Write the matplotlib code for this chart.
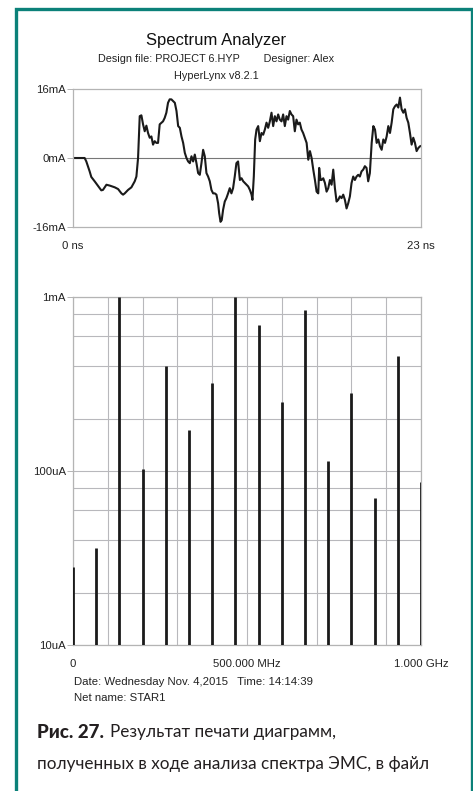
import numpy as np
import matplotlib.pyplot as plt
from matplotlib.patches import Rectangle
from matplotlib.ticker import FixedLocator, NullFormatter

plt.rcParams['font.family'] = ['Liberation Sans', 'DejaVu Sans']

# time-domain current waveform (ns, mA)
t_ns = [0.00, 0.77, 0.88, 1.10, 1.21, 1.43, 1.76, 1.87, 1.98, 2.21, 2.43, 2.76, 2.98, 3.20, 3.31,
        3.42, 3.64, 3.86, 4.08, 4.19, 4.30, 4.41, 4.52, 4.63, 4.74, 4.85, 4.96, 5.07, 5.18, 5.29,
        5.40, 5.51, 5.62, 5.73, 5.95, 6.06, 6.17, 6.28, 6.39, 6.50, 6.62, 6.73, 6.84, 6.95, 7.06,
        7.17, 7.28, 7.39, 7.50, 7.61, 7.72, 7.83, 7.94, 8.05, 8.16, 8.27, 8.38, 8.49, 8.60, 8.71,
        8.82, 8.93, 9.04, 9.15, 9.26, 9.37, 9.48, 9.59, 9.66, 9.75, 9.83, 9.92, 10.03, 10.14, 10.25,
        10.36, 10.47, 10.58, 10.69, 10.80, 10.91, 11.03, 11.14, 11.25, 11.36, 11.58, 11.69, 11.80,
        11.86, 11.95, 12.04, 12.13, 12.24, 12.35, 12.46, 12.57, 12.68, 12.79, 12.90, 13.01, 13.12,
        13.23, 13.34, 13.45, 13.56, 13.67, 13.78, 13.89, 14.00, 14.11, 14.22, 14.33, 14.44, 14.55,
        14.66, 14.77, 14.88, 14.99, 15.10, 15.21, 15.32, 15.44, 15.55, 15.66, 15.77, 15.88, 15.99,
        16.10, 16.21, 16.27, 16.36, 16.43, 16.54, 16.65, 16.76, 16.87, 16.98, 17.09, 17.20, 17.31,
        17.42, 17.53, 17.64, 17.75, 17.86, 17.97, 18.08, 18.19, 18.30, 18.41, 18.52, 18.63, 18.74,
        18.85, 18.96, 19.07, 19.18, 19.29, 19.40, 19.51, 19.62, 19.74, 19.85, 19.96, 20.07, 20.18,
        20.29, 20.40, 20.51, 20.62, 20.73, 20.84, 20.95, 21.06, 21.17, 21.28, 21.39, 21.50, 21.61,
        21.72, 21.83, 21.94, 22.05, 22.16, 22.27, 22.38, 22.49, 22.60, 22.71, 22.82, 22.93, 23.00]
i_ma = [0, 0, -0.8, -3.1, -4.4, -5.4, -7.0, -7.5, -7.4, -6.2, -6.4, -6.8, -7.2, -8.2, -8.5,
        -8.2, -7.4, -6.8, -5.4, -4.3, 0, 9.7, 9.9, 7.8, 6.2, 7.5, 5.8, 4.7, 5.0, 3.1,
        3.9, 3.5, 3.5, 7.8, 8.5, 9.3, 10.5, 12.8, 13.6, 13.6, 13.2, 12.8, 10.9, 7.4, 7.0,
        5.0, 3.5, 1.2, 0, -0.8, -1.2, 0.4, -0.8, 0.8, -1.2, -3.5, -3.9, -1.2, 1.9, 0.4,
        -3.5, -4.3, -5.4, -7.4, -8.2, -8.2, -8.5, -10.5, -12.8, -14.8, -14.4, -12.0, -10.1, -9.3, -8.2,
        -7.0, -8.2, -7.0, -4.3, -1.2, -0.8, -5.1, -4.7, -5.4, -5.8, -6.6, -7.4, -8.5,
        -9.7, -4.3, 4.3, 6.6, 7.4, 3.9, 5.8, 5.4, 6.6, 8.2, 7.0, 8.5, 10.5,
        7.4, 9.7, 8.5, 10.1, 8.9, 8.5, 10.1, 7.4, 9.7, 8.9, 10.9, 10.1, 9.7,
        6.2, 8.9, 7.8, 8.2, 6.6, 5.8, 4.7, 3.5, -0.4, 1.6, 0, -2.7, -5.1,
        -7.8, -8.2, -2.3, -5.1, -5.1, -4.7, -5.8, -7.8, -7.0, -5.1, -6.2, -2.7, -7.0,
        -10.1, -9.7, -8.9, -9.3, -8.5, -9.7, -11.7, -10.5, -8.9, -5.8, -4.3, -5.1, -4.3,
        -3.9, -4.3, -3.1, -2.7, -1.9, -2.3, -5.4, -3.5, 3.5, 7.4, 6.6, 3.5, 4.3,
        2.7, 1.9, 4.3, 3.5, 5.0, 7.4, 5.8, 8.2, 11.3, 12.0, 12.4, 11.7, 14.0,
        11.3, 10.5, 11.3, 9.3, 8.2, 5.8, 3.1, 4.7, 3.5, 1.6, 2.3, 2.7, 2.8]

# spectrum lines (MHz, uA)
freq_mhz = [0, 66.7, 133.3, 200.0, 266.7, 333.3, 400.0, 466.7, 533.3, 600.0, 666.7,
            733.3, 800.0, 866.7, 933.3, 1000.0]
amp_ua = [28, 36, 1000, 103, 403, 173, 319, 1000, 687, 249, 842, 114, 279, 70, 460, 86]

W, H = 473, 791
fig = plt.figure(figsize=(W / 100, H / 100), dpi=100)
fig.patch.set_facecolor('white')

def px(x, y):
    return x / W, 1 - y / H

frame_c = '#b4b4b4'
txt_c = '#222222'
lab_fs = 8.2

# ---- top: waveform ----
ax1 = fig.add_axes([73 / W, 1 - 227 / H, 348 / W, 138 / H])
ax1.plot(t_ns, i_ma, color='#1a1a1a', lw=1.5, solid_joinstyle='round')
ax1.axhline(0, color='#777777', lw=0.8, zorder=0)
ax1.set_xlim(0, 23)
ax1.set_ylim(-16, 16)
ax1.set_yticks([-16, 0, 16])
ax1.set_yticklabels(['-16mA', '0mA', '16mA'])
ax1.set_xticks([0, 23])
ax1.set_xticklabels(['0 ns', '23 ns'])
ax1.tick_params(axis='y', length=4, width=0.7, color=frame_c, labelsize=lab_fs,
                labelcolor=txt_c, pad=1)
ax1.tick_params(axis='x', length=0, labelsize=lab_fs, labelcolor=txt_c, pad=10)
for s in ax1.spines.values():
    s.set_color(frame_c)
    s.set_linewidth(0.9)

# ---- bottom: spectrum ----
ax2 = fig.add_axes([73 / W, 1 - 645 / H, 348 / W, 348 / H])
ax2.set_yscale('log')
ax2.set_ylim(1e-5, 1e-3)
ax2.set_xlim(0, 1000)
ax2.vlines(freq_mhz, 1e-5, np.array(amp_ua) * 1e-6, color='#1a1a1a', lw=2.0, zorder=3)
ax2.yaxis.set_major_locator(FixedLocator([1e-5, 1e-4, 1e-3]))
ax2.yaxis.set_minor_locator(FixedLocator([m * 10.0 ** e for e in (-5, -4) for m in (2, 4, 6, 8)]))
ax2.yaxis.set_minor_formatter(NullFormatter())
ax2.set_yticklabels(['10uA', '100uA', '1mA'])
ax2.set_xticks(np.arange(0, 1001, 100))
ax2.set_xticklabels(['0', '', '', '', '', '500.000 MHz', '', '', '', '', '1.000 GHz'])
ax2.grid(True, which='both', color='#b8b8bc', lw=0.8)
ax2.tick_params(axis='y', which='major', length=4, width=0.7, color=frame_c,
                labelsize=lab_fs, labelcolor=txt_c, pad=1)
ax2.tick_params(axis='y', which='minor', length=0)
ax2.tick_params(axis='x', length=0, labelsize=lab_fs, labelcolor=txt_c, pad=10)
for s in ax2.spines.values():
    s.set_color(frame_c)
    s.set_linewidth(0.9)

# ---- header / footer text ----
fig.text(*px(216, 40), 'Spectrum Analyzer', ha='center', va='center', fontsize=12, color='#111111')
fig.text(*px(216, 59), 'Design file: PROJECT 6.HYP        Designer: Alex', ha='center',
         va='center', fontsize=7.8, color=txt_c)
fig.text(*px(216, 76), 'HyperLynx v8.2.1', ha='center', va='center', fontsize=7.8, color=txt_c)
fig.text(*px(74, 682), 'Date: Wednesday Nov. 4,2015   Time: 14:14:39', ha='left', va='center',
         fontsize=lab_fs, color=txt_c)
fig.text(*px(74, 698), 'Net name: STAR1', ha='left', va='center', fontsize=lab_fs, color=txt_c)

# caption
cap_c = '#231f20'
cap_fam = ['Lato', 'DejaVu Sans']
fig.text(*px(37, 732), 'Рис. 27.', ha='left', va='center', fontsize=13.5,
         fontweight='black', family=cap_fam, color=cap_c)
fig.text(*px(110, 732), 'Результат печати диаграмм,', ha='left', va='center', fontsize=12.3,
         family=cap_fam, color=cap_c)
fig.text(*px(37, 764), 'полученных в ходе анализа спектра ЭМС, в файл', ha='left', va='center',
         fontsize=12.3, family=cap_fam, color=cap_c)

# teal frame
fig.patches.append(Rectangle(px(16, 800), (472 - 16) / W, (800 - 9) / H,
                             transform=fig.transFigure, fill=False,
                             edgecolor='#0b8179', lw=2.4))

fig.savefig('out.png', dpi=100)
